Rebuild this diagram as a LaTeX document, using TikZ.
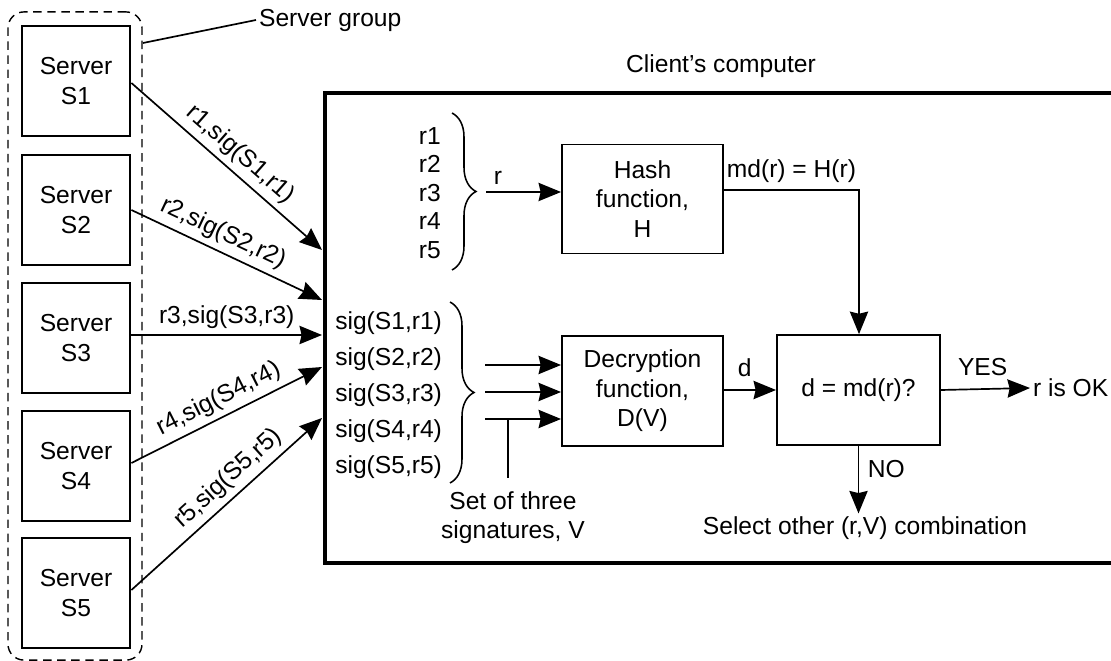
\documentclass[tikz,border=0pt]{standalone}
\usepackage{fontspec}
\setmainfont{Liberation Sans}
\usetikzlibrary{arrows.meta,decorations.pathreplacing,calc}
\begin{document}
\begin{tikzpicture}[x=0.025cm,y=-0.025cm,
  font=\fontsize{17.5}{21}\selectfont,
  server/.style={draw,line width=2pt,minimum width=2.7cm,minimum height=2.75cm,align=center,inner sep=0pt},
  func/.style={draw,line width=1.2pt,minimum width=4.03cm,minimum height=2.72cm,align=center,inner sep=0pt},
  lbl/.style={inner sep=2pt},
  arr/.style={line width=1.2pt,-{Stealth[length=16pt,width=13pt,inset=1.5pt]}},
  ln/.style={line width=1.2pt},
  brc/.style={line width=1.1pt,decorate,decoration={brace,amplitude=0.6cm}}]
\useasboundingbox (0,0) rectangle (1111,661);

% server group
\node[draw,dash pattern=on 6pt off 4pt,line width=1pt,rounded corners=0.4cm,minimum width=3.35cm,minimum height=16.2cm] (grp) at (75,336) {};
\node[server] (s1) at (76,81) {Server\\S1};
\node[server] (s2) at (76,210) {Server\\S2};
\node[server] (s3) at (76,338) {Server\\S3};
\node[server] (s4) at (76,466) {Server\\S4};
\node[server] (s5) at (76,593) {Server\\S5};
\node[lbl,anchor=west] (sg) at (256,20) {Server group};
\coordinate (gl) at (143,43);
\draw[ln] (gl) -- (sg.west);

% client box
\draw[line width=2.5pt] (1120,93) -- (325,93) -- (325,563) -- (1120,563);
\node[lbl] (cc) at (721,66) {Client's computer};

% server arrows
\coordinate (e1) at (322,250);
\coordinate (e2) at (322,300);
\coordinate (e3) at (322,335);
\coordinate (e4) at (322,367);
\coordinate (e5) at (322,418);
\draw[arr] ($(s1.east)+(0,2)$) -- node[pos=0.51,sloped,above,lbl,yshift=2pt] {r1,sig(S1,r1)} (e1);
\draw[arr] (s2.east) -- node[pos=0.44,sloped,above,lbl,yshift=2pt] {r2,sig(S2,r2)} (e2);
\draw[arr] (s3.east |- e3) -- node[pos=0.5,above,lbl,yshift=2pt] {r3,sig(S3,r3)} (e3);
\draw[arr] ($(s4.east)+(0,-3)$) -- node[pos=0.5,sloped,above,lbl,yshift=2pt] {r4,sig(S4,r4)} (e4);
\draw[arr] ($(s5.east)+(0,-3)$) -- node[pos=0.57,sloped,above,lbl,yshift=2pt] {r5,sig(S5,r5)} (e5);

% r list
\node[anchor=east,align=right,inner sep=0pt,font=\fontsize{17.5}{20.2}\selectfont] (rl) at (441,193) {r1\\r2\\r3\\r4\\r5};
\draw[brc] (452,113) -- (452,270);
\coordinate (ra) at (486,192);
\node[func] (hash) at (642.5,199) {Hash\\function,\\H};
\draw[arr] (ra) -- node[pos=0.16,above,lbl,yshift=3pt] {r} (ra -| hash.west);

% sig list
\node[anchor=west,align=left,inner sep=0pt,font=\fontsize{17.5}{25.6}\selectfont] (sl) at (335,395) {sig(S1,r1)\\sig(S2,r2)\\sig(S3,r3)\\sig(S4,r4)\\sig(S5,r5)};
\draw[brc] (450,302) -- (450,483);
\node[func,minimum height=2.75cm] (dec) at (642.5,391) {Decryption\\function,\\D(V)};
\coordinate (d1) at (485,365);
\coordinate (d2) at (485,392);
\coordinate (d3) at (485,419);
\draw[arr] (d1) -- (d1 -| dec.west);
\draw[arr] (d2) -- (d2 -| dec.west);
\draw[arr] (d3) -- (d3 -| dec.west);
\coordinate (vt) at (508,419);
\coordinate (vb) at (508,478);
\draw[ln] (vt) -- (vb);
\node[align=center,inner sep=0pt,font=\fontsize{17.5}{20.6}\selectfont] (setv) at (513,518) {Set of three\\signatures, V};

% compare
\node[func,minimum width=4.08cm,minimum height=2.75cm] (cmp) at (858.5,390) {d = md(r)?};
\draw[arr] (dec.east |- cmp.west) -- node[pos=0.4,above,lbl,yshift=7pt] {d} (cmp.west);
\coordinate (hc) at (859,190);
\draw[arr] (hash.east |- hc) -- node[above,lbl,yshift=3pt] {md(r) = H(r)} (hc) -- (hc |- cmp.north);

\node[lbl,anchor=west] (ok) at (1030,388) {r is OK};
\draw[arr] (cmp.east) -- node[above,lbl,yshift=7pt,xshift=-2pt] {YES} (ok.west);
\node[lbl] (sel) at (865,528) {Select other (r,V) combination};
\draw[arr] (cmp.south) -- node[pos=0.35,right,lbl,xshift=4pt] {NO} (cmp.south |- sel.north);
\end{tikzpicture}
\end{document}
